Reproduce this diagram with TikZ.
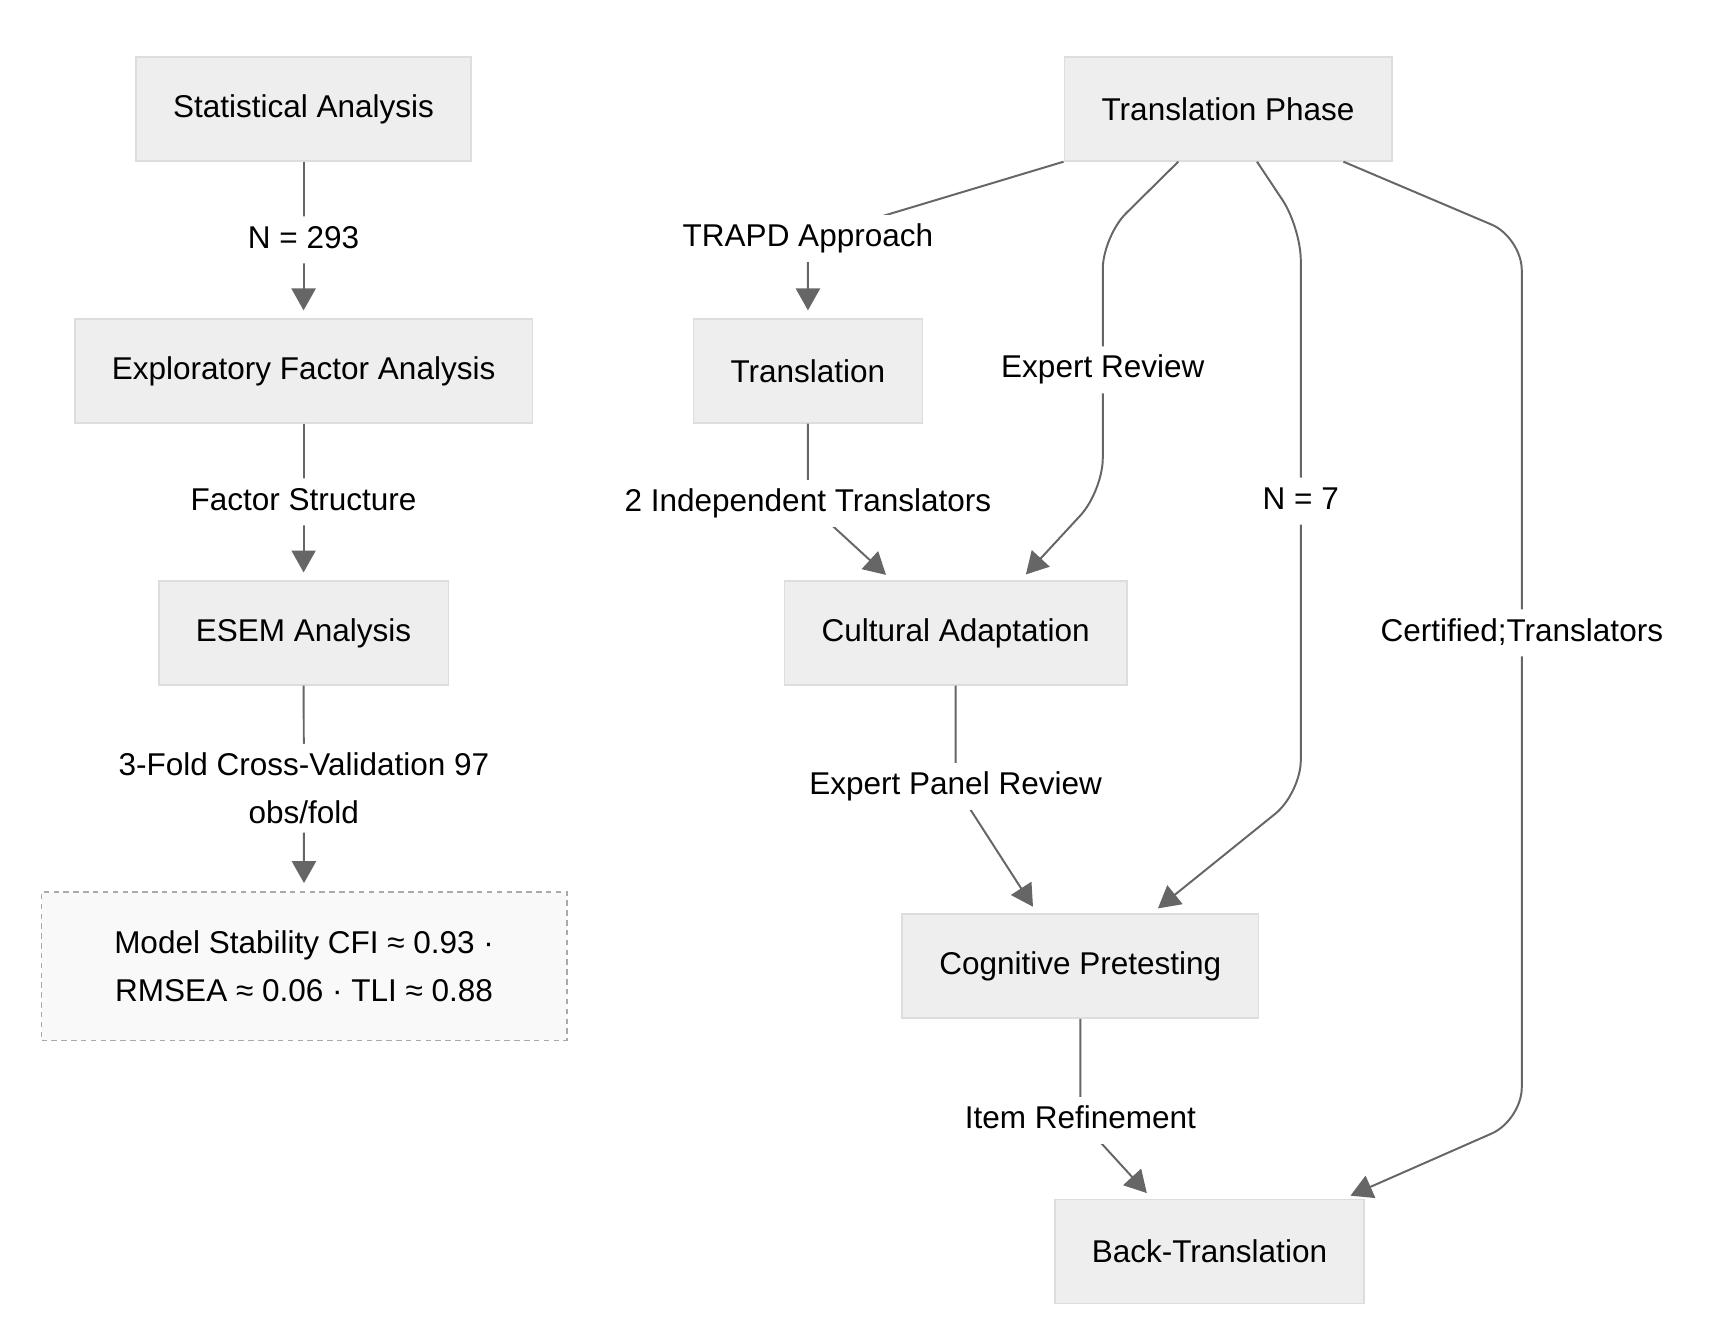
\documentclass[tikz,border=0pt]{standalone}
\usepackage{fontspec}
\setmainfont{Liberation Sans}
\usetikzlibrary{arrows.meta,positioning}

\begin{document}
\begin{tikzpicture}[
		font=\fontsize{28.8pt}{44pt}\selectfont,
		stepNode/.style={draw=nodeLineColour, line width=1.6pt, fill=nodeFillColour, inner xsep=34pt, minimum height=95pt},
		noteNode/.style={draw=noteLineColour, dash pattern=on 5pt off 4pt, line width=1.6pt, fill=noteFillColour, minimum width=480pt, minimum height=136pt, align=center},
		wrapLabel/.style={fill=white, inner xsep=4pt, inner ysep=8pt, align=center},
		edgeLabel/.style={wrapLabel, text height=21pt, text depth=6pt},
		flow/.style={draw=edgeColour, line width=1.8pt, -{Triangle[length=20pt, width=22pt]}, shorten >=7pt, rounded corners=30pt}
	]
					\definecolor{nodeFillColour}{RGB}{238, 238, 238}
					\definecolor{nodeLineColour}{RGB}{221, 221, 221}
					\definecolor{noteFillColour}{RGB}{249, 249, 249}
					\definecolor{noteLineColour}{RGB}{170, 170, 170}
					\definecolor{edgeColour}{RGB}{102, 102, 102}

					\useasboundingbox (0pt, 0pt) rectangle (1566.7pt, -1210.2pt);

					% analysis column
					\node[stepNode] (statAnalysis) at (277.5pt, -99.5pt) {Statistical Analysis};
					\node[stepNode] (efa) at (277.5pt, -339pt) {Exploratory Factor Analysis};
					\node[stepNode] (esem) at (277.5pt, -578.5pt) {ESEM Analysis};
					\node[noteNode] (stability) at (278pt, -883pt) {Model Stability CFI ≈ 0.93 ·\\RMSEA ≈ 0.06 · TLI ≈ 0.88};

					% translation column
					\node[stepNode] (transPhase) at (1122.5pt, -99.5pt) {Translation Phase};
					\node[stepNode] (translation) at (738.5pt, -339pt) {Translation};
					\node[stepNode] (cultural) at (873.5pt, -578.5pt) {Cultural Adaptation};
					\node[stepNode] (pretest) at (987.5pt, -883pt) {Cognitive Pretesting};
					\node[stepNode] (backTrans) at (1105.5pt, -1144pt) {Back-Translation};

					\draw[flow] (statAnalysis) -- node[edgeLabel] {N = 293} (efa);
					\draw[flow] (efa) -- node[edgeLabel] {Factor Structure} (esem);
					\draw[flow] (esem) -- node[wrapLabel] {3-Fold Cross-Validation 97\\obs/fold} (stability);

					\draw[flow, sharp corners] (transPhase.south west) -- (738.5pt, -218pt) node[edgeLabel] {TRAPD Approach} -- (translation);
					\draw[flow] ([xshift=-45.5pt]transPhase.south) -- (1008pt, -216pt) -- (1008pt, -338pt) node[edgeLabel] {Expert Review} -- (1008pt, -449pt) -- ([xshift=59.5pt]cultural.north);
					\draw[flow] ([xshift=26.5pt]transPhase.south) -- (1189pt, -208pt) -- (1189pt, -458pt) node[edgeLabel] {N = 7} -- (1189pt, -725pt) -- ([xshift=65.5pt]pretest.north);
					\draw[flow] ([xshift=105.5pt]transPhase.south) -- (1391pt, -217pt) -- (1391pt, -578.5pt) node[edgeLabel] {Certified;Translators} -- (1391pt, -1024pt) -- ([xshift=122.5pt]backTrans.north);

					\draw[flow, sharp corners] (translation) -- (738.5pt, -460pt) node[edgeLabel] {2 Independent Translators} -- ([xshift=-58.5pt]cultural.north);
					\draw[flow, sharp corners] (cultural) -- (873.5pt, -719pt) node[edgeLabel] {Expert Panel Review} -- ([xshift=-39.5pt]pretest.north);
					\draw[flow, sharp corners] (pretest) -- (987.5pt, -1024pt) node[edgeLabel] {Item Refinement} -- ([xshift=-52.5pt]backTrans.north);
				\end{tikzpicture}
\end{document}
